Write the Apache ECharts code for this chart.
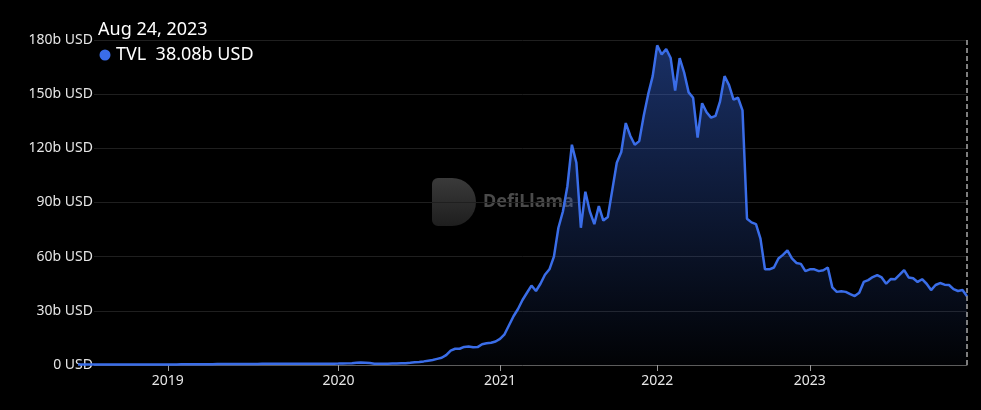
<!DOCTYPE html>
<html>
<head>
<meta charset="utf-8">
<script src="https://cdn.jsdelivr.net/npm/echarts@6/dist/echarts.min.js"></script>
<style>
html,body{margin:0;padding:0;background:#000;}
#chart{width:981px;height:410px;}
</style>
</head>
<body>
<div id="chart"></div>
<script>
// Date anchors: [segment start, number of samples in segment]; last entry = final date
const dateAnchors = [
  ['2018-06-26', 20],
  ['2019-01-01', 38],
  ['2020-01-01', 36],
  ['2021-01-01', 35],
  ['2022-01-01', 34],
  ['2023-01-01', 35],
  ['2023-08-24', 0]
];

// TVL values in billions USD, one per date
const tvl2018 = [0.25,0.25,0.26,0.27,0.28,0.28,0.27,0.27,0.28,0.3,0.3,0.3,0.29,0.28,0.28,0.28,0.29,0.3,0.3,0.3,0.31];
const tvl2019 = [0.32,0.33,0.35,0.36,0.37,0.38,0.40,0.42,0.45,0.48,
                 0.50,0.52,0.53,0.55,0.57,0.58,0.58,0.60,0.60,0.62,
                 0.63,0.63,0.64,0.65,0.65,0.66,0.66,0.67,0.68,0.68,
                 0.68,0.68,0.69,0.70,0.72,0.74,0.76];
const tvl2020 = [0.8,0.85,0.9,1.0,1.2,1.4,1.3,1.1,0.7,0.65,
                 0.7,0.75,0.8,0.85,0.95,1.0,1.2,1.5,1.7,2.0,
                 2.4,2.8,3.4,4.0,5.5,8.0,9.0,9.0,10.0,10.2,
                 9.8,9.9,11.5,12.0,12.3,13.0];
const tvl2021 = [14.5,17,22,27,31,36,40,44,41,45,
                 50,53,60,76,85,99,122,112,76,96,
                 85,78,88,80,82,97,112,118,134,127,
                 122,124,138,150,160];
const tvl2022 = [177,172,175,170,152,170,162,151,148,126,
                 145,140,137,138,146,160,155,147,148,141,
                 81,79,78,70,53,53,54,59,61,63.5,
                 59,56.5,56,52];
const tvl2023 = [53,53,52,52.5,54,43,40.5,40.8,40.5,39.3,
                 38.2,40,46,47,48.7,49.8,48.5,45,47.6,47.5,
                 50,52.6,48.5,48,46,47.5,45,41.5,44.3,45.4,
                 44.5,44.3,42,41,41.5,38.08];

const yTickLabels = ['0 USD','30b USD','60b USD','90b USD','120b USD','150b USD','180b USD'];
const headerDate = 'Aug 24, 2023';
const seriesName = 'TVL';

function fmt(d){
  const p = n => String(n).padStart(2,'0');
  return d.getUTCFullYear() + '-' + p(d.getUTCMonth()+1) + '-' + p(d.getUTCDate());
}
const dates = [];
for (let s = 0; s < dateAnchors.length - 1; s++) {
  const a = Date.parse(dateAnchors[s][0] + 'T00:00:00Z');
  const b = Date.parse(dateAnchors[s+1][0] + 'T00:00:00Z');
  const n = dateAnchors[s][1];
  for (let k = 0; k < n; k++) {
    const t = a + Math.round((b - a) * k / n / 86400000) * 86400000;
    dates.push(fmt(new Date(t)));
  }
}
dates.push(dateAnchors[dateAnchors.length-1][0]);

const values = [].concat(tvl2018, tvl2019, tvl2020, tvl2021, tvl2022, tvl2023);
const lastValue = values[values.length-1];
const lastDate = dates[dates.length-1];

const isYearStart = (idx, val) => val.slice(5) === '01-01';

const chart = echarts.init(document.getElementById('chart'), null, {renderer:'canvas'});
const FONT = 'Noto Sans';
chart.setOption({
  backgroundColor: '#000',
  animation: false,
  textStyle: {fontFamily: FONT},
  grid: {left: 78, right: 14, top: 40, bottom: 45},
  xAxis: {
    type: 'category',
    data: dates,
    boundaryGap: false,
    axisLine: {lineStyle: {color: '#5c5c5c', width: 1}},
    axisTick: {show: true, interval: isYearStart, length: 6, lineStyle: {color: '#9a9a9a'}},
    axisLabel: {interval: isYearStart, formatter: v => v.slice(0,4), color: '#e6e6e6', fontSize: 14, margin: 9, fontFamily: FONT},
    splitLine: {show: false}
  },
  yAxis: {
    type: 'value',
    min: 0, max: 180, interval: 30,
    axisLine: {show: false},
    axisTick: {show: false},
    axisLabel: {
      formatter: (v) => yTickLabels[Math.round(v/30)],
      color: '#e6e6e6', fontSize: 14, margin: -16, fontFamily: FONT,
      backgroundColor: '#000', padding: [0, 1, 0, 2]
    },
    splitLine: {lineStyle: {color: '#1f1f1f', width: 1}}
  },
  graphic: [
    {type: 'rect', left: 432, top: 178, z: 0, shape: {width: 44, height: 48, r: [6, 24, 24, 6]},
     style: {fill: new echarts.graphic.LinearGradient(0, 0, 0, 1, [{offset: 0, color: '#3a3a3a'}, {offset: 1, color: '#1e1e1e'}])}},
    {type: 'text', left: 483, top: 193, z: 0, style: {text: 'DefiLlama', fill: '#4a4a4a', font: 'bold 18px "Noto Sans"'}},
    {type: 'text', left: 98, top: 21, z: 100, style: {text: headerDate, fill: '#ffffff', font: '18px "Noto Sans"'}},
    {type: 'circle', z: 100, shape: {cx: 105, cy: 55, r: 5.5}, style: {fill: '#3a6de8'}},
    {type: 'text', left: 116, top: 46, z: 100, style: {text: seriesName + '  ' + lastValue.toFixed(2) + 'b USD', fill: '#ffffff', font: '18px "Noto Sans"'}}
  ],
  series: [{
    type: 'line',
    name: seriesName,
    data: values,
    showSymbol: false,
    symbol: 'none',
    lineStyle: {color: '#3a6de8', width: 2.5},
    itemStyle: {color: '#3a6de8'},
    areaStyle: {
      color: new echarts.graphic.LinearGradient(0, 0, 0, 1, [
        {offset: 0, color: 'rgba(58,109,232,0.62)'},
        {offset: 1, color: 'rgba(58,109,232,0.03)'}
      ])
    },
    markLine: {
      silent: true,
      symbol: ['none','none'],
      label: {show: false},
      lineStyle: {color: '#a8a8a8', type: [5, 3], width: 1.5},
      data: [{xAxis: lastDate}]
    }
  }]
});
</script>
</body>
</html>
